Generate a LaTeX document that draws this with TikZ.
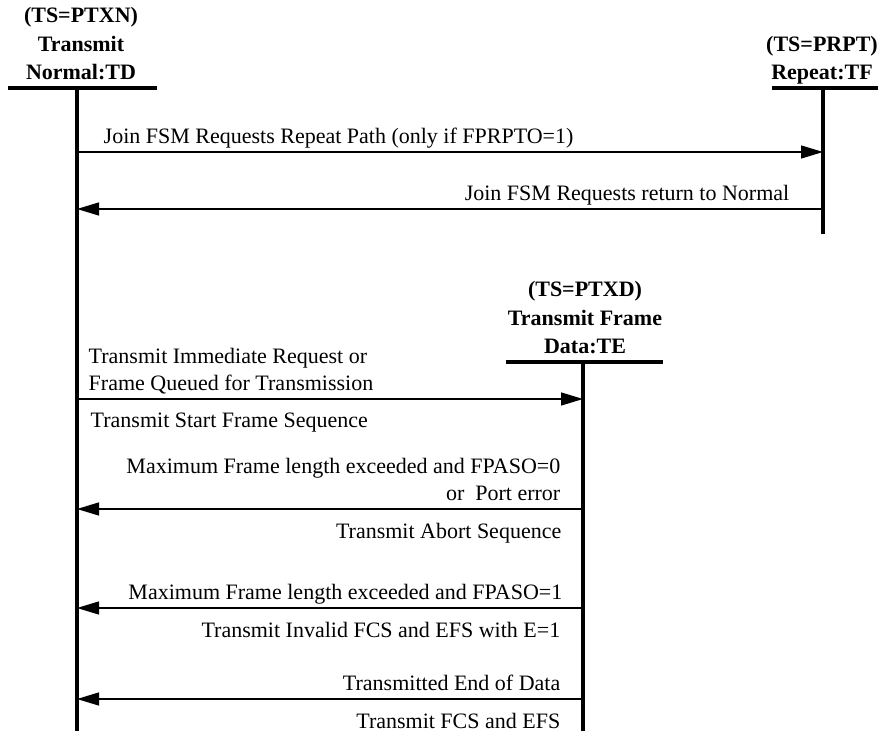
\documentclass[tikz,border=0pt]{standalone}
\usepackage{fontspec}
\setmainfont{Liberation Serif}
\usetikzlibrary{positioning,arrows.meta}
\tikzset{
  actor/.style={
    font=\fontsize{11}{14.25}\selectfont\bfseries, align=center,
    anchor=south, inner xsep=0pt, inner ysep=4pt, text depth=0pt},
  headrule/.style={line width=1.6pt},
  lifeline/.style={line width=1.6pt},
  msg/.style={line width=0.7pt, -{Triangle[length=11pt,width=6.5pt]}},
  msgtop/.style={
    font=\fontsize{11}{13.5}\selectfont, inner xsep=0pt, inner ysep=1.25pt,
    text depth=0.25em},
  msgbot/.style={
    font=\fontsize{11}{13.5}\selectfont, inner sep=0pt, yshift=-14.5pt},
}

\begin{document}
\begin{tikzpicture}[x=0.5pt, y=-0.5pt]
  \useasboundingbox (0,0) rectangle (882,731);

  % lifeline heads
  \coordinate (TD) at (77,88);
  \coordinate (TF) at (823,88);
  \coordinate (TE) at (583,362);
  \coordinate (TDend) at (77,731);
  \coordinate (TFend) at (823,234);
  \coordinate (TEend) at (583,731);

  \node[actor] (hTD) at (81,88) {(TS=PTXN)\\Transmit\\Normal:TD};
  \node[actor] (hTF) at (822,88) {(TS=PRPT)\\Repeat:TF};
  \node[actor] (hTE) at (585,362) {(TS=PTXD)\\Transmit Frame\\Data:TE};

  \draw[headrule] (8,88) -- (157,88);
  \draw[headrule] (772,88) -- (878,88);
  \draw[headrule] (506,362) -- (663,362);

  \draw[lifeline] (TD) -- (TDend);
  \draw[lifeline] (TF) -- (TFend);
  \draw[lifeline] (TE) -- (TEend);

  % repeat path
  \draw[msg] (TD |- 0,152) -- (TF |- 0,152)
    node[msgtop, pos=0, anchor=south west, xshift=13pt]
    {Join FSM Requests Repeat Path (only if FPRPTO=1)};
  \draw[msg] (TF |- 0,209) -- (TD |- 0,209)
    node[msgtop, pos=0, anchor=south east, xshift=-16.5pt]
    {Join FSM Requests return to Normal};

  % frame data
  \draw[msg] (TD |- 0,399) -- (TE |- 0,399)
    node[msgtop, pos=0, anchor=south west, xshift=5.5pt, align=left]
    {Transmit Immediate Request or\\Frame Queued for Transmission}
    node[msgbot, pos=0, anchor=base west, xshift=6.5pt]
    {Transmit Start Frame Sequence};
  \draw[msg] (TE |- 0,509) -- (TD |- 0,509)
    node[msgtop, pos=0, anchor=south east, xshift=-11pt, align=right]
    {Maximum Frame length exceeded and FPASO=0\\or\ \ Port error}
    node[msgbot, pos=0, anchor=base east, xshift=-10.5pt]
    {Transmit Abort Sequence};
  \draw[msg] (TE |- 0,608) -- (TD |- 0,608)
    node[msgtop, pos=0, anchor=south east, xshift=-10pt]
    {Maximum Frame length exceeded and FPASO=1}
    node[msgbot, pos=0, anchor=base east, xshift=-11pt]
    {Transmit Invalid FCS and EFS with E=1};
  \draw[msg] (TE |- 0,699) -- (TD |- 0,699)
    node[msgtop, pos=0, anchor=south east, xshift=-11pt]
    {Transmitted End of Data}
    node[msgbot, pos=0, anchor=base east, xshift=-11pt]
    {Transmit FCS and EFS};

\end{tikzpicture}
\end{document}
